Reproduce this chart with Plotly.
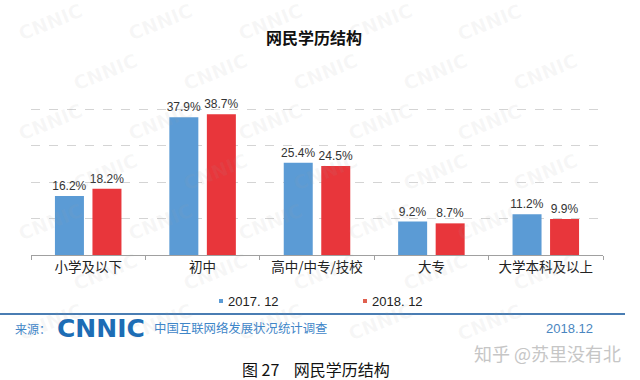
import plotly.graph_objects as go

categories = ["小学及以下", "初中", "高中/中专/技校", "大专", "大学本科及以上"]
series_names = ["2017. 12", "2018. 12"]
values_2017 = [16.2, 37.9, 25.4, 9.2, 11.2]
values_2018 = [18.2, 38.7, 24.5, 8.7, 9.9]
colors = ["#5b9bd5", "#e8363b"]
legend_sq_colors = ["#5b9bd5", "#e0604f"]

title_text = "网民学历结构"
source_label = "来源："
logo_text = "CNNIC"
survey_text = "中国互联网络发展状况统计调查"
date_text = "2018.12"
zhihu_text = "知乎 @苏里没有北"
caption_text = "图 27\u00a0\u00a0\u00a0\u00a0网民学历结构"
watermark_text = "CNNIC"

W, H = 640, 380
L, R, T, B = 31, 603, 73, 255

def px(x):
    return (x - L) / (R - L)

def py(y):
    return (B - y) / (B - T)

base_font = "Liberation Sans, Noto Sans CJK SC, sans-serif"
cjk_font = "Noto Sans CJK SC, Liberation Sans, sans-serif"

fig = go.Figure()
for name, vals, col in zip(series_names, [values_2017, values_2018], colors):
    fig.add_trace(go.Bar(
        x=categories, y=vals, name=name, marker=dict(color=col, line=dict(width=0)),
        texttemplate="%{y}%", textposition="outside", constraintext="none",
        textfont=dict(size=12, color="#333333", family=base_font),
        cliponaxis=False, showlegend=False, hoverinfo="skip",
    ))

annotations = []
shapes = []

# faint background watermark (kept inside the frame)
for r in range(7):
    yy = 22 + r * 50
    off = 0 if r % 2 == 0 else 55
    for c in range(6):
        xx = 50 + off + c * 110
        if xx > 595:
            continue
        annotations.append(dict(
            x=px(xx), y=py(yy), xref="paper", yref="paper", text="<b>" + watermark_text + "</b>",
            showarrow=False, textangle=-22, xanchor="center", yanchor="middle",
            font=dict(size=19, color="rgba(160,160,160,0.09)", family="DejaVu Sans"),
        ))

annotations.append(dict(x=px(314), y=py(37), xref="paper", yref="paper",
                        text="<b>" + title_text + "</b>", showarrow=False,
                        xanchor="center", yanchor="middle",
                        font=dict(size=16, color="#111111", family=cjk_font)))

# legend
for i, (name, sqc) in enumerate(zip(series_names, legend_sq_colors)):
    sx = [219, 363][i]
    shapes.append(dict(type="rect", xref="paper", yref="paper",
                       x0=px(sx), x1=px(sx + 4), y0=py(303), y1=py(299),
                       fillcolor=sqc, line=dict(width=0)))
    annotations.append(dict(x=px(sx + 7), y=py(301), xref="paper", yref="paper",
                            text=name, showarrow=False, xanchor="left", yanchor="middle",
                            font=dict(size=13, color="#222222", family=base_font)))

# separator line
shapes.append(dict(type="line", xref="paper", yref="paper",
                   x0=px(0), x1=px(625), y0=py(314), y1=py(314),
                   line=dict(color="#4a7db3", width=2)))

blue_txt = "#3f86c8"
footer = [
    dict(x=px(13), y=py(328), text=source_label, font=dict(size=12, color=blue_txt, family=cjk_font)),
    dict(x=px(55), y=py(328), text="<b>" + logo_text + "</b>", font=dict(size=25, color="#1d6db5", family="DejaVu Sans")),
    dict(x=px(152), y=py(328), text=survey_text, font=dict(size=12.4, color=blue_txt, family=cjk_font)),
    dict(x=px(544), y=py(328), text=date_text, font=dict(size=13, color="#4a86c0", family=base_font)),
    dict(x=px(472), y=py(353), text=zhihu_text, font=dict(size=18, color="#c6c6c6", family=cjk_font)),
    dict(x=px(240), y=py(369), text=caption_text, font=dict(size=16, color="#111111", family=cjk_font)),
]
for a in footer:
    a.update(xref="paper", yref="paper", showarrow=False, xanchor="left", yanchor="middle")
annotations += footer

fig.update_layout(
    width=W, height=H,
    margin=dict(l=L, r=W - R, t=T, b=H - B, pad=0),
    paper_bgcolor="white", plot_bgcolor="white",
    barmode="group", bargap=0.344, bargroupgap=0.227,
    font=dict(family=base_font, color="#333333"),
    showlegend=False, hovermode=False,
    annotations=annotations, shapes=shapes,
    xaxis=dict(type="category", tickson="boundaries", ticks="outside", ticklen=4,
               tickcolor="#a0a0a0", showline=True, linecolor="#a0a0a0", linewidth=1,
               tickfont=dict(size=13.5, color="#222222", family=cjk_font),
               showgrid=False, fixedrange=True),
    yaxis=dict(range=[0, 50.05], tickvals=[10, 20, 30, 40, 50], showgrid=True, gridcolor="#d4d4d4",
               griddash="dash", gridwidth=1, showticklabels=False, zeroline=False,
               showline=False, ticks="", fixedrange=True),
)

fig.write_html("out.html", config={"displayModeBar": False},
               post_script="document.body.style.margin='0';document.body.style.padding='0';")
